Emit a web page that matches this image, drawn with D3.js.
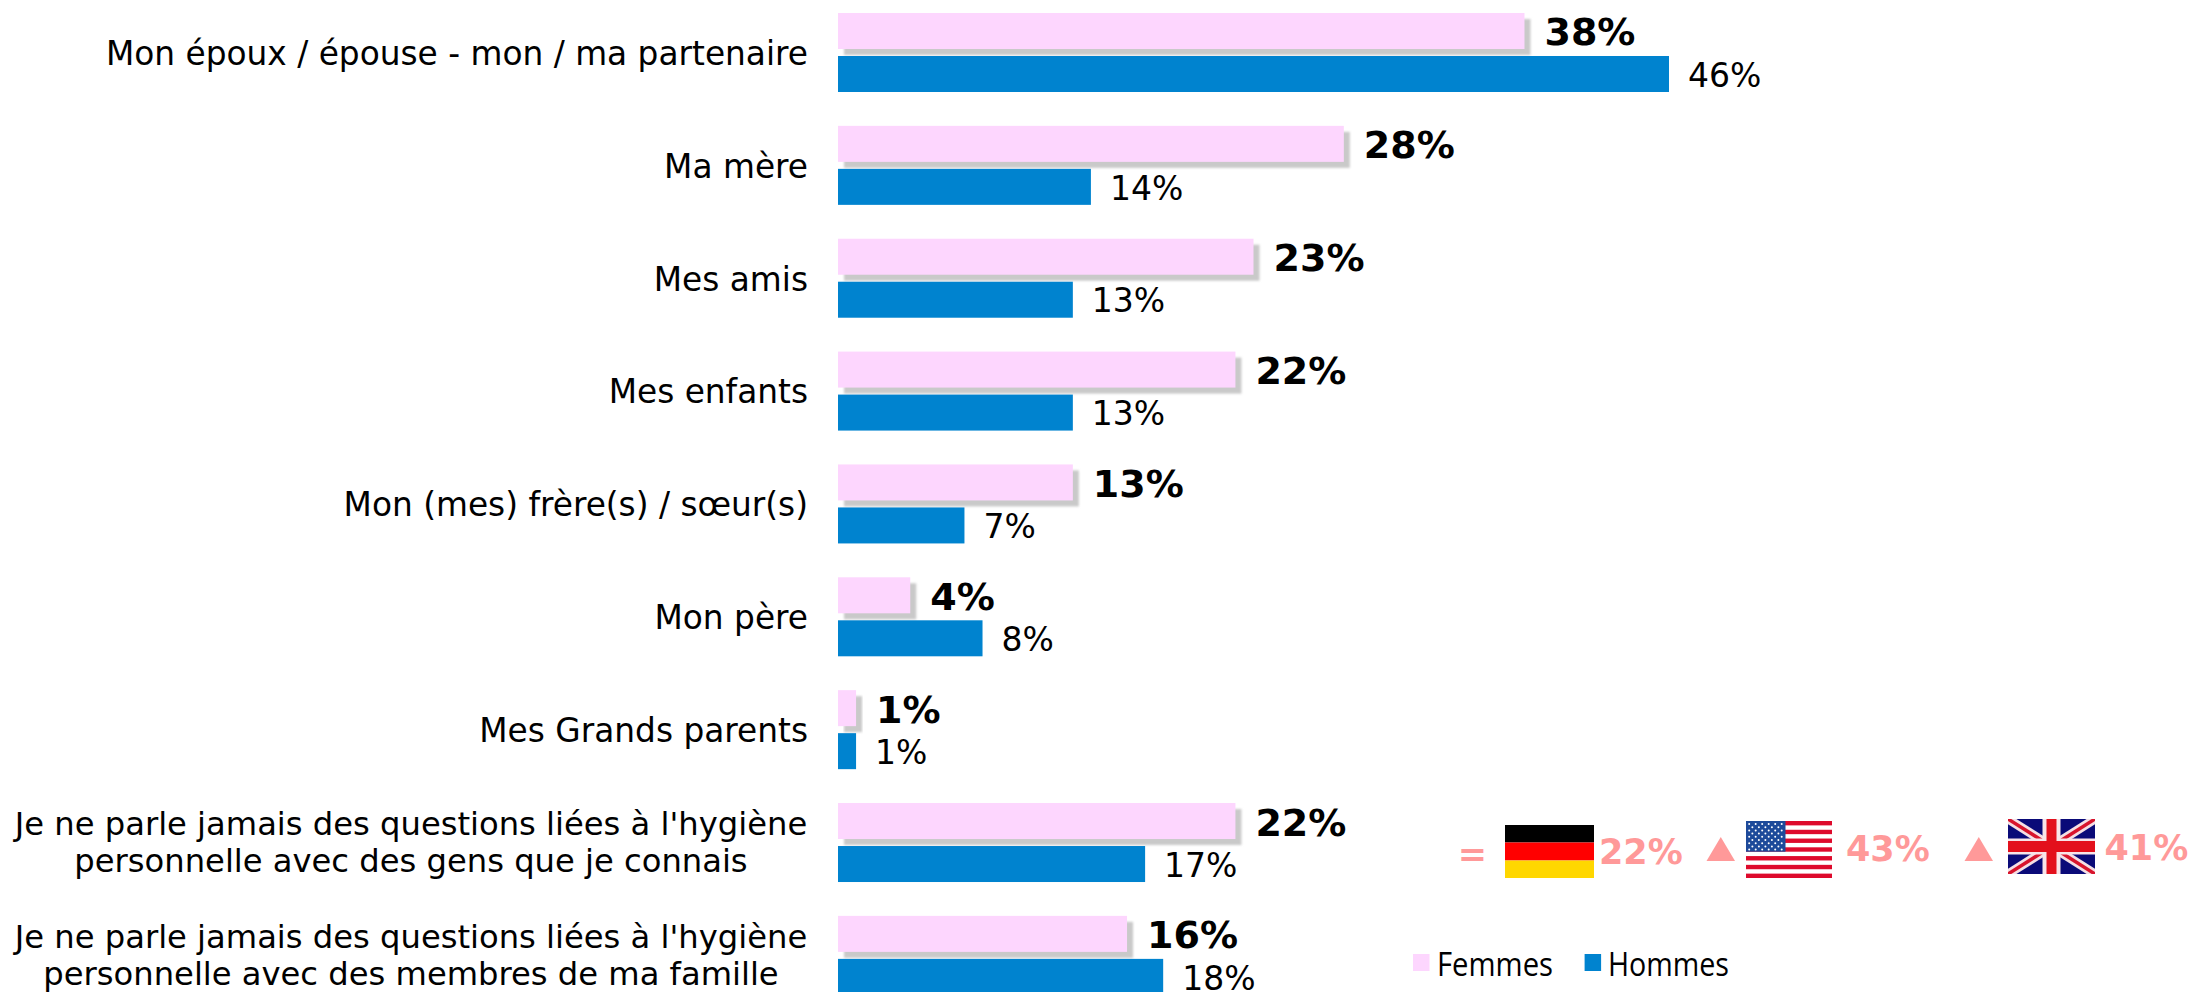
<!DOCTYPE html>
<html><head><meta charset="utf-8">
<script src="https://cdn.jsdelivr.net/npm/d3@7/dist/d3.min.js"></script>
<style>html,body{margin:0;padding:0;background:#fff;overflow:hidden}svg{display:block}text{font-family:"DejaVu Sans",Verdana,sans-serif}</style>
</head><body><svg id="c" width="2193" height="992"></svg>
<script>
const categories=[
 ["Mon époux / épouse - mon / ma partenaire"],
 ["Ma mère"],["Mes amis"],["Mes enfants"],["Mon (mes) frère(s) / sœur(s)"],["Mon père"],["Mes Grands parents"],
 ["Je ne parle jamais des questions liées à l'hygiène","personnelle avec des gens que je connais"],
 ["Je ne parle jamais des questions liées à l'hygiène","personnelle avec des membres de ma famille"]];
const femmes=[38,28,23,22,13,4,1,22,16];
const hommes=[46,14,13,13,7,8,1,17,18];
const seriesNames=["Femmes","Hommes"];
const colors=["#fdd6fe","#0083cf"];
const countryLabels=["22%","43%","41%"];

const svg=d3.select("#c");
const defs=svg.append("defs");
defs.append("filter").attr("id","sh").attr("x","-5%").attr("y","-5%").attr("width","110%").attr("height","125%")
 .append("feGaussianBlur").attr("stdDeviation",0.8);
const x=d3.scaleLinear().domain([0,46]).range([838,1669]);
const idx=categories.map((_,i)=>i);
const y=d3.scaleBand().domain(idx).range([-4.2,-4.2+112.86*9]);
const inner=d3.scaleBand().domain(seriesNames).range([17.2,96.2]).paddingInner(7/43).paddingOuter(0);
const g=svg.append("g");
const groups=g.selectAll("g.cat").data(idx).join("g").attr("class","cat").attr("transform",i=>`translate(0,${y(i)})`);
const bh=inner.bandwidth();
groups.append("rect").attr("x",x(0)+6).attr("y",inner("Femmes")+6).attr("width",i=>x(femmes[i])-x(0)).attr("height",bh)
 .attr("fill","#c9c9c9").attr("filter","url(#sh)");
groups.append("rect").attr("x",x(0)).attr("y",inner("Femmes")).attr("width",i=>x(femmes[i])-x(0)).attr("height",bh).attr("fill",colors[0]);
groups.append("rect").attr("x",x(0)).attr("y",inner("Hommes")).attr("width",i=>x(hommes[i])-x(0)).attr("height",bh).attr("fill",colors[1]);
groups.append("text").attr("x",i=>x(femmes[i])+20).attr("y",inner("Femmes")+bh/2+14.5).attr("font-size",38).attr("font-weight","bold").attr("fill","#000").text(i=>femmes[i]+"%");
groups.append("text").attr("x",i=>x(hommes[i])+19).attr("y",inner("Hommes")+bh/2+12.7).attr("font-size",33).attr("fill","#000").text(i=>hommes[i]+"%");
groups.each(function(i){
 const lines=categories[i], s=d3.select(this);
 lines.forEach((t,k)=>{
  const two=lines.length===2;
  s.append("text").attr("x",two?411:808).attr("text-anchor",two?"middle":"end")
   .attr("y",two?[49.5,86][k]:69).attr("font-size",two?32.2:32.8).attr("fill","#000").text(t);
 });
});
// legend
const lx=[1413,1584.6], tx=[1437,1608], tw=[116,121];
seriesNames.forEach((n,i)=>{
 svg.append("rect").attr("x",lx[i]).attr("y",954).attr("width",16.5).attr("height",17).attr("fill",colors[i]);
 svg.append("text").attr("x",tx[i]).attr("y",976).attr("font-size",33).attr("textLength",tw[i]).attr("lengthAdjust","spacingAndGlyphs")
  .style("font-family","'Open Sans',sans-serif").text(n);
});
// country annotations
const pink="#ff9999";
const ann=svg.append("g").attr("fill",pink).attr("font-weight","bold").attr("font-size",35);
ann.append("text").attr("x",1487).attr("y",866).attr("text-anchor","end").text("=");
const cx=[1599,1846,2104.5], cy=[864,861,860];
countryLabels.forEach((t,i)=>ann.append("text").attr("x",cx[i]).attr("y",cy[i]).text(t));
[[1706.5,1735],[1964.5,1993]].forEach(([a,b])=>ann.append("path").attr("d",d3.line()([[a,861],[(a+b)/2,837],[b,861]])+"Z"));
// Germany
[["#000",825,17.5],["#f00",842.5,18],["#ffd700",860.5,17.5]].forEach(([c,yy,h])=>svg.append("rect").attr("x",1505).attr("y",yy).attr("width",89).attr("height",h).attr("fill",c));
// USA
const us=svg.append("g").attr("transform","translate(1746,821)");
const sw=86,sh=57,sth=sh/13;
us.append("rect").attr("width",sw).attr("height",sh).attr("fill","#fff");
d3.range(0,13,2).forEach(k=>us.append("rect").attr("y",k*sth).attr("width",sw).attr("height",sth).attr("fill","#de0a2c"));
us.append("rect").attr("width",39.5).attr("height",sth*7).attr("fill","#1d4a9a");
d3.range(9).forEach(r=>d3.range(r%2?5:6).forEach(c=>us.append("circle").attr("cx",(r%2?6.4:3.2)+c*6.5).attr("cy",3+r*3.2).attr("r",1).attr("fill","#fff")));
// UK
const uk=svg.append("g").attr("transform","translate(2008,819)");
const uw=87,uh=55;
defs.append("clipPath").attr("id","ukc").append("rect").attr("width",uw).attr("height",uh);
uk.attr("clip-path","url(#ukc)");
uk.append("rect").attr("width",uw).attr("height",uh).attr("fill","#0a0a78");
const diag=(w,c)=>{[[[0,0],[uw,uh]],[[uw,0],[0,uh]]].forEach(p=>uk.append("path").attr("d",d3.line()(p)).attr("stroke",c).attr("stroke-width",w).attr("fill","none"));};
diag(9,"#f4dfe4");diag(3.5,"#d8142c");
uk.append("rect").attr("x",uw/2-9).attr("width",18).attr("height",uh).attr("fill","#f8e4e8");
uk.append("rect").attr("y",uh/2-8).attr("width",uw).attr("height",16).attr("fill","#f8e4e8");
uk.append("rect").attr("x",uw/2-5).attr("width",10).attr("height",uh).attr("fill","#e3101c");
uk.append("rect").attr("y",uh/2-5.5).attr("width",uw).attr("height",11).attr("fill","#e3101c");
</script></body></html>
